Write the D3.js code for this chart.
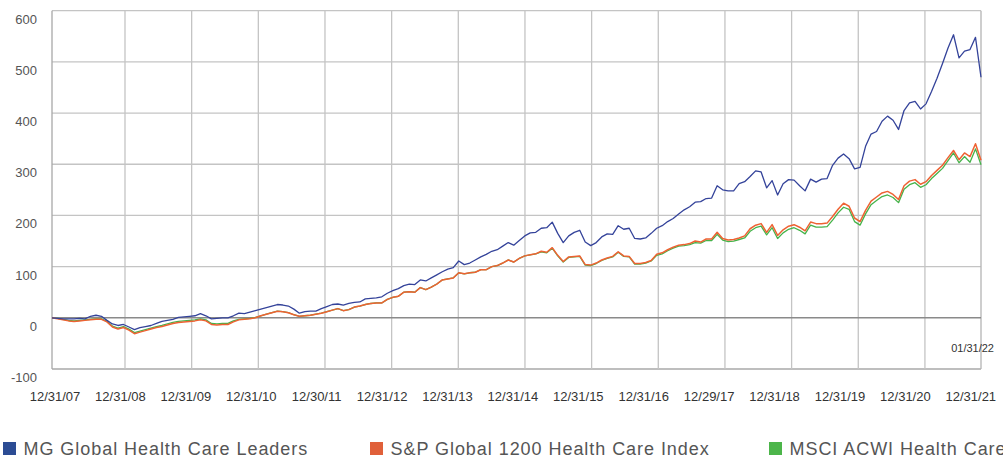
<!DOCTYPE html>
<html>
<head>
<meta charset="utf-8">
<script src="https://cdn.jsdelivr.net/npm/d3@7"></script>
<style>
  body { margin: 0; background: #fff; }
  svg { display: block; }
</style>
</head>
<body>
<div id="chart"></div>
<script>
var width = 1003, height = 457

// monthly points, 12/31/07 .. 01/31/22 (cumulative % return)
var mgLeaders = [
  0, -1, -2, -2, -2, -1, -2, 3, 5, 3,
  -5, -12, -15, -13, -18, -23, -19, -17, -15, -11,
  -7, -5, -3, 1, 2, 3, 4, 8, 4, -2,
  -1, 0, 0, 4, 9, 8, 11, 14, 17, 20,
  23, 26, 25, 23, 17, 9, 12, 13, 13, 18,
  22, 26, 27, 25, 28, 30, 31, 37, 38, 39,
  41, 48, 53, 57, 63, 66, 65, 74, 72, 78,
  84, 90, 95, 98, 111, 104, 107, 113, 119, 124,
  130, 133, 140, 147, 142, 151, 160, 166, 167, 175,
  176, 187, 165, 147, 160, 167, 171, 148, 141, 147,
  158, 164, 163, 180, 173, 175, 155, 154, 156, 165,
  175, 180, 188, 194, 203, 211, 217, 226, 227, 233,
  234, 258, 250, 248, 248, 262, 266, 276, 287, 285,
  254, 268, 240, 262, 270, 269, 258, 248, 271, 265,
  271, 272, 298, 312, 320, 311, 291, 294, 335, 359,
  364, 384, 394, 386, 368, 405, 420, 423, 408, 418,
  442, 468, 497, 527, 553, 508, 521, 524, 548, 470
]

var spGlobal = [
  0, -2, -4, -6, -7, -6, -5, -4, -3, -3,
  -8, -18, -22, -19, -24, -31, -28, -25, -22, -19,
  -17, -14, -11, -9, -8, -7, -6, -4, -6, -13,
  -14, -13, -13, -8, -4, -3, -2, 0, 4, 7,
  10, 13, 12, 10, 6, 3, 4, 5, 7, 9,
  12, 15, 18, 14, 16, 21, 23, 26, 28, 29,
  29, 36, 40, 42, 50, 51, 50, 59, 55, 60,
  66, 74, 76, 78, 88, 86, 88, 89, 94, 94,
  100, 102, 107, 113, 109, 116, 121, 123, 125, 130,
  128, 137, 122, 110, 119, 120, 121, 104, 103, 107,
  113, 117, 120, 129, 121, 120, 106, 106, 108, 112,
  124, 127, 133, 138, 142, 143, 145, 150, 148, 154,
  154, 167, 155, 152, 153, 156, 160, 174, 181, 184,
  167, 182, 161, 172, 179, 182, 177, 170, 187, 184,
  184, 185, 198, 212, 224, 218, 195, 188, 210, 228,
  236, 244, 247, 241, 231, 258, 267, 270, 261, 266,
  278, 288, 298, 313, 327, 309, 322, 315, 340, 308
]

var msciAcwi = [
  0, -1, -3, -5, -6, -5, -4, -3, -2, -2,
  -7, -16, -20, -17, -22, -29, -26, -23, -20, -17,
  -15, -12, -9, -7, -6, -5, -4, -2, -4, -11,
  -12, -11, -11, -6, -3, -2, -1, 1, 4, 7,
  10, 13, 12, 10, 6, 3, 4, 5, 7, 9,
  12, 15, 18, 14, 16, 21, 23, 26, 28, 29,
  29, 36, 40, 42, 50, 51, 50, 59, 55, 60,
  66, 74, 76, 78, 88, 86, 88, 89, 94, 94,
  100, 102, 107, 113, 109, 116, 121, 123, 125, 129,
  127, 136, 121, 109, 118, 119, 120, 103, 102, 106,
  112, 116, 119, 128, 120, 119, 105, 105, 107, 111,
  122, 125, 131, 136, 140, 141, 143, 147, 146, 151,
  151, 163, 152, 149, 150, 153, 156, 169, 176, 179,
  162, 176, 155, 166, 173, 176, 171, 164, 181, 177,
  177, 178, 191, 205, 216, 212, 188, 181, 203, 221,
  229, 237, 240, 235, 225, 251, 260, 264, 255, 260,
  272, 282, 292, 307, 322, 303, 315, 304, 330, 299
]

var xLabels = ["12/31/07", "12/31/08", "12/31/09", "12/31/10", "12/30/11", "12/31/12",
  "12/31/13", "12/31/14", "12/31/15", "12/31/16", "12/29/17", "12/31/18",
  "12/31/19", "12/31/20", "12/31/21"]
var yTicks = [600, 500, 400, 300, 200, 100, 0, -100]
var endLabel = "01/31/22"

var seriesNames = ["MG Global Health Care Leaders", "S&P Global 1200 Health Care Index", "MSCI ACWI Health Care Index"]

var series = [
  {name: seriesNames[2], values: msciAcwi, color: "#45b34a", w: 1.3},
  {name: seriesNames[1], values: spGlobal, color: "#ee6233", w: 1.5},
  {name: seriesNames[0], values: mgLeaders, color: "#34439a", w: 1.3}
]

var plot = {left: 52, right: 981, top: 10.7, bottom: 369}

var svg = d3.select("#chart")
    .append("svg")
    .attr("width", width)
    .attr("height", height)

var x = d3.scaleLinear().domain([0, mgLeaders.length - 1]).range([plot.left, plot.right])
var y = d3.scaleLinear().domain([-100, 600]).range([plot.bottom, plot.top])

// horizontal grid
svg.append("g").selectAll("line")
    .data(yTicks.filter(d => d !== 0))
    .enter().append("line")
    .attr("x1", plot.left).attr("x2", plot.right)
    .attr("y1", d => y(d)).attr("y2", d => y(d))
    .style("stroke", d => d === -100 ? "#a8a8a8" : "#c4c4c4")
    .style("stroke-width", 1.3)

// vertical grid (13 lines, evenly spaced, not aligned to the month scale)
var gridX = d3.scaleLinear().domain([0, 12]).range([x(13.28), x(158.8)])
svg.append("g").selectAll("line")
    .data(d3.range(13))
    .enter().append("line")
    .attr("x1", d => gridX(d)).attr("x2", d => gridX(d))
    .attr("y1", plot.top).attr("y2", plot.bottom)
    .style("stroke", "#c4c4c4")
    .style("stroke-width", 1.3)

// frame left / right
svg.append("line")
    .attr("x1", plot.left).attr("x2", plot.left)
    .attr("y1", plot.top).attr("y2", plot.bottom)
    .style("stroke", "#a8a8a8").style("stroke-width", 1.3)
svg.append("line")
    .attr("x1", plot.right).attr("x2", plot.right)
    .attr("y1", plot.top).attr("y2", plot.bottom)
    .style("stroke", "#b4b4b4").style("stroke-width", 1.3)

// zero line
svg.append("line")
    .attr("x1", plot.left).attr("x2", plot.right)
    .attr("y1", y(0)).attr("y2", y(0))
    .style("stroke", "#8a8a8a")
    .style("stroke-width", 1.6)

// y labels
svg.append("g").selectAll("text")
    .data(yTicks)
    .enter().append("text")
    .attr("x", 37)
    .attr("y", d => y(d) + 13)
    .attr("text-anchor", "end")
    .style("font", "normal 13px 'Liberation Sans', Arial, sans-serif")
    .style("fill", "#555")
    .text(d => d)

// x labels
var xl = d3.scalePoint().domain(xLabels).range([x(0) + 3, x(166.6) + 3])
svg.append("g").selectAll("text")
    .data(xLabels)
    .enter().append("text")
    .attr("x", d => xl(d))
    .attr("y", 401)
    .attr("text-anchor", "middle")
    .style("font", "normal 13px 'Liberation Sans', Arial, sans-serif")
    .style("fill", "#333")
    .text(d => d)

svg.append("text")
    .attr("x", x(mgLeaders.length - 1) + 13)
    .attr("y", 352)
    .attr("text-anchor", "end")
    .style("font", "normal 11px 'Liberation Sans', Arial, sans-serif")
    .style("fill", "#333")
    .text(endLabel)

var line = d3.line()
    .x((d, i) => x(i))
    .y(d => y(d))

svg.append("g").selectAll("path")
    .data(series)
    .enter().append("path")
    .attr("d", d => line(d.values))
    .style("fill", "none")
    .style("stroke", d => d.color)
    .style("stroke-width", d => d.w)
    .style("stroke-linejoin", "round")

// legend
var legendX = [3, 370, 769]
var legendItems = [series[2], series[1], series[0]]
var lg = svg.append("g").selectAll("g")
    .data(legendItems)
    .enter().append("g")
    .attr("transform", (d, i) => "translate(" + legendX[i] + ",0)")
lg.append("rect")
    .attr("x", 0).attr("y", 442)
    .attr("width", 13).attr("height", 13)
    .style("fill", (d, i) => ["#2c4c94", "#e0603a", "#4cb54a"][i])
lg.append("text")
    .attr("x", 20.5)
    .attr("y", 454.5)
    .style("font", "normal 18px 'Liberation Sans', Arial, sans-serif")
    .style("letter-spacing", "0.95px")
    .style("fill", "#555")
    .text(d => d.name)
</script>
</body>
</html>
